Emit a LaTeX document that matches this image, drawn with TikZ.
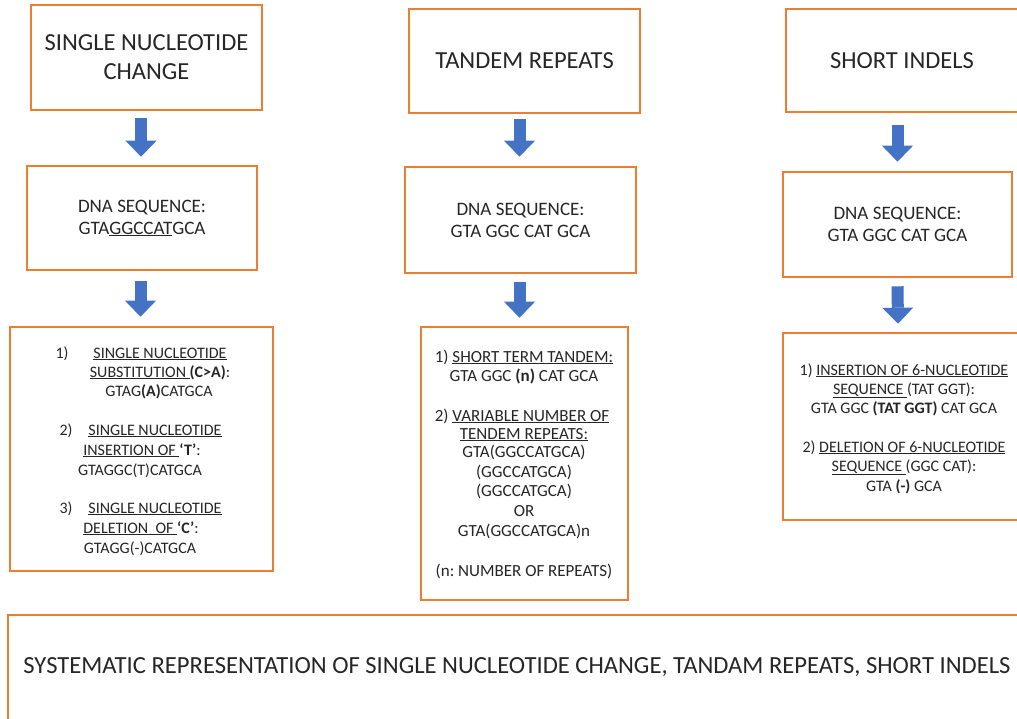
\documentclass[tikz,border=0pt]{standalone}
\usepackage{fontspec}
\setmainfont{Carlito}
\usetikzlibrary{arrows.meta,calc}
\definecolor{borange}{HTML}{ED7D31}
\definecolor{barrowc}{HTML}{4472C4}
\definecolor{txt}{HTML}{262626}
\frenchspacing
\begin{document}
\begin{tikzpicture}[x=1pt,y=-1pt,
  box/.style={draw=borange,line width=2.6pt,fill=white,inner sep=0pt,text=txt,align=center},
  ttl/.style={font=\fontsize{24.5}{28}\selectfont},
  seq/.style={font=\fontsize{19}{22}\selectfont},
  lst/.style={font=\fontsize{16}{19.5}\selectfont,text=txt,anchor=base,inner sep=0pt},
  lstb/.style={lst,font=\fontsize{17}{20}\selectfont},
  barrow/.style={draw=barrowc,line width=12pt,-{Triangle[width=31pt,length=16pt,line width=0pt,fill=barrowc]}}
]
\useasboundingbox[fill=white] (0,0) rectangle (1017,718);
% column A
\node[box,ttl,minimum width=231pt,minimum height=105pt] (a1) at (146.5,57.5) {SINGLE NUCLEOTIDE\\[1pt]CHANGE};
\node[box,seq,minimum width=230pt,minimum height=104pt] (a2) at (142,218) {DNA SEQUENCE:\\GTA\underline{GGCCAT}GCA};
\node[box,minimum width=263pt,minimum height=244pt] (a3) at (141.5,449) {};
\draw[barrow] ($(a2.north |- a1.south)+(-1,7)$) -- ($(a2.north)+(-1,-8)$);
\draw[barrow] ($(a3.north |- a2.south)+(-1,10)$) -- ($(a3.north)+(-1,-9)$);
\node[lst] (a31n) at (62,358) {1)};
\node[lst] (a31a) at (160,358) {\underline{SINGLE NUCLEOTIDE}};
\node[lst] (a31b) at (160,377) {\underline{SUBSTITUTION\ }\textbf{(C>A)}:};
\node[lst] (a31c) at (159,396) {GTAG\textbf{(A)}CATGCA};
\node[lst] (a32n) at (66,435) {2)};
\node[lst] (a32a) at (155,435) {\underline{SINGLE NUCLEOTIDE}};
\node[lst] (a32b) at (142,455) {\underline{INSERTION OF\ }\textbf{‘T’}:};
\node[lst] (a32c) at (140,475) {GTAGGC(T)CATGCA};
\node[lst] (a33n) at (66,513) {3)};
\node[lst] (a33a) at (155,513) {\underline{SINGLE NUCLEOTIDE}};
\node[lst] (a33b) at (141,533) {\underline{DELETION\ \ OF\ }\textbf{‘C’}:};
\node[lst] (a33c) at (140,553) {GTAGG(-)CATGCA};
% column B
\node[box,ttl,minimum width=231pt,minimum height=104pt] (b1) at (524.5,61) {TANDEM REPEATS};
\node[box,seq,minimum width=231pt,minimum height=106pt] (b2) at (520.5,220) {DNA SEQUENCE:\\GTA GGC CAT GCA};
\node[box,minimum width=207pt,minimum height=273pt] (b3) at (524.5,463.5) {};
\draw[barrow] ($(b2.north |- b1.south)+(-1,5)$) -- ($(b2.north)+(-1,-9)$);
\draw[barrow] ($(b3.north |- b2.south)+(-5,8)$) -- ($(b3.north)+(-5,-8)$);
\node[lstb] (b31) at (524,362) {1) \underline{SHORT TERM TANDEM:}};
\node[lstb] (b32) at (524,381) {GTA GGC \textbf{(n)} CAT GCA};
\node[lstb] (b33) at (522,421) {2) \underline{VARIABLE NUMBER OF}};
\node[lstb] (b34) at (524,439) {\underline{TENDEM REPEATS:}};
\node[lstb] (b35) at (524,457) {GTA(GGCCATGCA)};
\node[lstb] (b36) at (524,477) {(GGCCATGCA)};
\node[lstb] (b37) at (524,496) {(GGCCATGCA)};
\node[lstb] (b38) at (524,516) {OR};
\node[lstb] (b39) at (524,536) {GTA(GGCCATGCA)n};
\node[lstb] (b310) at (524,576) {(n: NUMBER OF REPEATS)};
% column C
\node[box,ttl,minimum width=232pt,minimum height=103pt] (c1) at (902,60.5) {SHORT INDELS};
\node[box,seq,minimum width=229pt,minimum height=105pt] (c2) at (897.5,224.5) {DNA SEQUENCE:\\GTA GGC CAT GCA};
\node[box,minimum width=242pt,minimum height=187pt] (c3) at (904,426.5) {};
\draw[barrow] ($(c2.north |- c1.south)+(0,12)$) -- ($(c2.north)+(0,-9)$);
\draw[barrow] ($(c2.south)+(0,8)$) -- ($(c3.north)+(-6,-8)$);
\node[lst] (c31) at (904,375) {1) \underline{INSERTION OF 6-NUCLEOTIDE}};
\node[lst] (c32) at (904,394) {\underline{SEQUENCE\ }(TAT GGT):};
\node[lst] (c33) at (904,413) {GTA GGC \textbf{(TAT GGT)} CAT GCA};
\node[lst] (c34) at (904,452) {2) \underline{DELETION OF 6-NUCLEOTIDE}};
\node[lst] (c35) at (904,471) {\underline{SEQUENCE\ }(GGC CAT):};
\node[lst] (c36) at (904,491) {GTA \textbf{(-)} GCA};
% bottom
\node[box,minimum width=1030pt,minimum height=120pt] (d) at (523,675) {};
\node[font=\fontsize{24.6}{28}\selectfont,text=txt,inner sep=0pt] (dt) at (517,667) {SYSTEMATIC REPRESENTATION OF SINGLE NUCLEOTIDE CHANGE, TANDAM REPEATS, SHORT INDELS};
\end{tikzpicture}
\end{document}
